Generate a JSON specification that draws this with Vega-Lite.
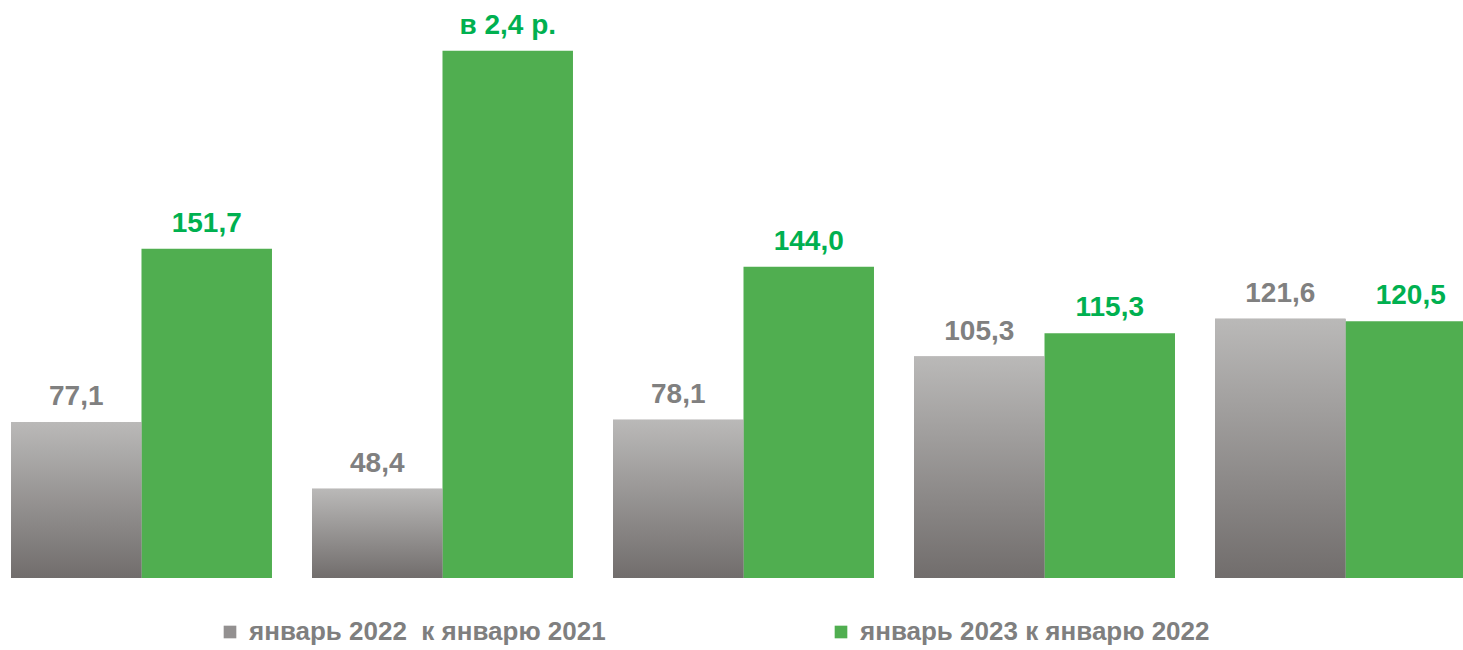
{
  "$schema": "https://vega.github.io/schema/vega-lite/v6.json",
  "autosize": "none",
  "width": 1465,
  "height": 578,
  "padding": {"left": 11, "top": 0, "right": 0, "bottom": 72},
  "background": "white",
  "config": {"view": {"stroke": null}, "font": "Liberation Sans"},
  "data": {"values": [
    {"group": "1", "series": "январь 2022  к январю 2021", "value": 77.1, "label": "77,1"},
    {"group": "1", "series": "январь 2023 к январю 2022", "value": 151.7, "label": "151,7"},
    {"group": "2", "series": "январь 2022  к январю 2021", "value": 48.4, "label": "48,4"},
    {"group": "2", "series": "январь 2023 к январю 2022", "value": 237, "label": "в 2,4 р."},
    {"group": "3", "series": "январь 2022  к январю 2021", "value": 78.1, "label": "78,1"},
    {"group": "3", "series": "январь 2023 к январю 2022", "value": 144.0, "label": "144,0"},
    {"group": "4", "series": "январь 2022  к январю 2021", "value": 105.3, "label": "105,3"},
    {"group": "4", "series": "январь 2023 к январю 2022", "value": 115.3, "label": "115,3"},
    {"group": "5", "series": "январь 2022  к январю 2021", "value": 121.6, "label": "121,6"},
    {"group": "5", "series": "январь 2023 к январю 2022", "value": 120.5, "label": "120,5"}
  ]},
  "encoding": {
    "x": {"field": "group", "type": "nominal", "axis": null, "scale": {"paddingInner": 0.133, "paddingOuter": 0}},
    "xOffset": {"field": "series", "type": "nominal", "scale": {"paddingInner": 0, "paddingOuter": 0}},
    "y": {"field": "value", "type": "quantitative", "axis": null, "scale": {"domain": [10, 258.8], "zero": false, "nice": false}}
  },
  "layer": [
    {
      "mark": {"type": "bar", "clip": true},
      "encoding": {
        "y2": {"datum": 10},
        "fill": {
          "field": "series", "type": "nominal",
          "scale": {"domain": ["январь 2022  к январю 2021", "январь 2023 к январю 2022"], "range": ["#939090", "#50ae50"]},
          "legend": {
            "orient": "none", "legendX": 206, "legendY": 619, "direction": "horizontal", "columns": 2,
            "title": null, "symbolType": "square", "symbolSize": 160, "symbolStrokeWidth": 0,
            "labelFont": "Liberation Sans", "labelFontSize": 26, "labelFontWeight": "bold", "labelColor": "#7f7f7f",
            "labelLimit": 700, "labelOffset": 6, "columnPadding": 222,
            "labelExpr": "replace(datum.label, '  ', '\u00a0 ')"
          }
        }
      }
    },
    {
      "transform": [{"filter": "datum.series === 'январь 2022  к январю 2021'"}],
      "mark": {"type": "bar", "clip": true,
        "fill": {"gradient": "linear", "x1": 0, "y1": 0, "x2": 0, "y2": 1, "stops": [{"offset": 0, "color": "#bab9b8"}, {"offset": 1, "color": "#716d6c"}]}},
      "encoding": {
        "y2": {"datum": 10}
      }
    },
    {
      "mark": {"type": "text", "baseline": "alphabetic", "dy": -17, "fontSize": 28, "fontWeight": "bold", "font": "Liberation Sans"},
      "encoding": {
        "text": {"field": "label"},
        "color": {"field": "series", "type": "nominal", "legend": null,
          "scale": {"domain": ["январь 2022  к январю 2021", "январь 2023 к январю 2022"], "range": ["#808080", "#00b050"]}}
      }
    }
  ]
}
